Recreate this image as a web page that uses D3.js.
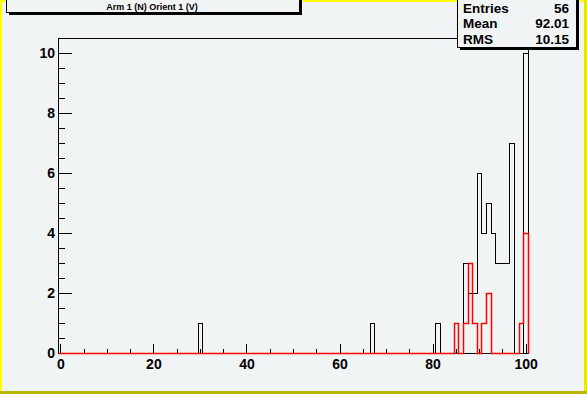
<!DOCTYPE html>
<html lang="en">
<head>
    <script src="https://d3js.org/d3.v7.min.js"></script>
</head>
<style>
    body { margin: 0; }
    text { font-family: "Liberation Sans", Arial, sans-serif; font-weight: bold; }
    path, line, rect { shape-rendering: crispEdges; }
    path.red { shape-rendering: auto; }
</style>
<body>
<script>
    const w = 587
    const h = 394

    // histogram bins are centred on integers 0..100 (101 bins)
    const blackBins = [30, 67, 81, 87, 88, 89, 90, 91, 92, 93, 94, 95, 96, 97, 100]
    const blackCounts = [1, 1, 1, 3, 2, 2, 6, 4, 5, 4, 3, 3, 3, 7, 10]
    const redBins = [85, 87, 88, 89, 91, 92, 99, 100]
    const redCounts = [1, 1, 3, 1, 1, 2, 1, 4]

    const xTicks = [0, 20, 40, 60, 80, 100]
    const yTicks = [0, 2, 4, 6, 8, 10]
    const statNames = ["Entries", "Mean", "RMS"]
    const statValues = ["56", "92.01", "10.15"]
    const title = "Arm 1 (N) Orient 1 (V)"

    const bg = "#f1f4f5"

    var svg = d3.select("body")
        .append("svg")
        .attr("width", w)
        .attr("height", h)

    svg.append("rect").attr("width", w).attr("height", h).attr("fill", bg)

    // canvas border
    svg.append("rect").attr("x", 0).attr("y", 0).attr("width", w).attr("height", 2).attr("fill", "#ffff00")
    svg.append("rect").attr("x", 0).attr("y", 0).attr("width", 2).attr("height", h).attr("fill", "#ffff00")
    svg.append("rect").attr("x", w - 3).attr("y", 0).attr("width", 3).attr("height", h).attr("fill", "#e8e800")
    svg.append("rect").attr("x", 0).attr("y", h - 3).attr("width", w).attr("height", 3).attr("fill", "#b8b400")

    let x = d3.scaleLinear().domain([-0.5, 100.5]).range([58, 528])
    let y = d3.scaleLinear().domain([0, 10.5]).range([353, 38])

    // frame
    svg.append("rect")
        .attr("x", x(-0.5) + 0.5)
        .attr("y", y(10.5) + 0.5)
        .attr("width", x(100.5) - x(-0.5))
        .attr("height", y(0) - y(10.5))
        .attr("fill", "none")
        .attr("stroke", "black")

    // turn sparse bins into a step outline over the full range
    function stepPoints(bins, counts) {
        let full = d3.range(0, 101).map(() => 0)
        bins.forEach((b, i) => { full[b] = counts[i] })
        let pts = [{ x: -0.5, v: 0 }]
        full.forEach((v, k) => {
            pts.push({ x: k - 0.5, v: v })
            pts.push({ x: k + 0.5, v: v })
        })
        pts.push({ x: 100.5, v: 0 })
        return pts
    }

    const line = d3.line()
        .x(d => Math.round(x(d.x)) + 0.5)
        .y(d => Math.round(y(d.v)) + 0.5)

    svg.append("path")
        .attr("d", line(stepPoints(blackBins, blackCounts)))
        .attr("fill", "none")
        .attr("stroke", "black")

    // y axis, ticks pointing into the frame
    svg.append("g")
        .attr("transform", "translate(" + x(-0.5) + ",0)")
        .call(d3.axisLeft(y).tickValues(d3.range(0, 10.5, 0.5)).tickSize(-7).tickFormat(""))
        .call(g => g.select(".domain").remove())
    svg.append("g")
        .attr("transform", "translate(" + x(-0.5) + ",0)")
        .call(d3.axisLeft(y).tickValues(yTicks).tickSize(-14).tickPadding(3).tickFormat(d3.format("d")))
        .call(g => g.select(".domain").remove())
        .selectAll("text").attr("font-size", 14).attr("fill", "black")
            .style("font-family", "Liberation Sans, Arial, sans-serif").style("font-weight", "bold")

    // x axis, ticks pointing up
    svg.append("g")
        .attr("transform", "translate(0," + y(0) + ")")
        .call(d3.axisBottom(x).tickValues(d3.range(0, 101, 5)).tickSize(-4.5).tickFormat(""))
        .call(g => g.select(".domain").remove())
    svg.append("g")
        .attr("transform", "translate(0," + y(0) + ")")
        .call(d3.axisBottom(x).tickValues(xTicks).tickSize(-9).tickPadding(6).tickFormat(d3.format("d")))
        .call(g => g.select(".domain").remove())
        .selectAll("text").attr("font-size", 14).attr("fill", "black")
            .style("font-family", "Liberation Sans, Arial, sans-serif").style("font-weight", "bold")

    svg.append("path")
        .attr("class", "red")
        .attr("d", line(stepPoints(redBins, redCounts)))
        .attr("fill", "none")
        .attr("stroke", "#ff0000")
        .attr("stroke-width", 1.5)

    // title box with shadow
    svg.append("rect").attr("x", 8.5).attr("y", -8).attr("width", 293).attr("height", 22.5).attr("fill", "black")
    svg.append("rect").attr("x", 6.5).attr("y", -10).attr("width", 293).attr("height", 22.5)
        .attr("fill", bg).attr("stroke", "black")
    svg.append("text").attr("x", 152).attr("y", 10).attr("text-anchor", "middle")
        .attr("font-size", 9).text(title)

    // stats box with shadow
    svg.append("rect").attr("x", 459.5).attr("y", -8).attr("width", 119).attr("height", 57.5).attr("fill", "black")
    svg.append("rect").attr("x", 457.5).attr("y", -10).attr("width", 119).attr("height", 57.5)
        .attr("fill", bg).attr("stroke", "black")
    statNames.forEach((n, i) => {
        svg.append("text").attr("x", 463).attr("y", 13 + i * 15.3)
            .attr("font-size", 13.5).text(n)
        svg.append("text").attr("x", 569).attr("y", 13 + i * 15.3)
            .attr("text-anchor", "end").attr("font-size", 13.5).text(statValues[i])
    })
</script>
</body>
</html>
